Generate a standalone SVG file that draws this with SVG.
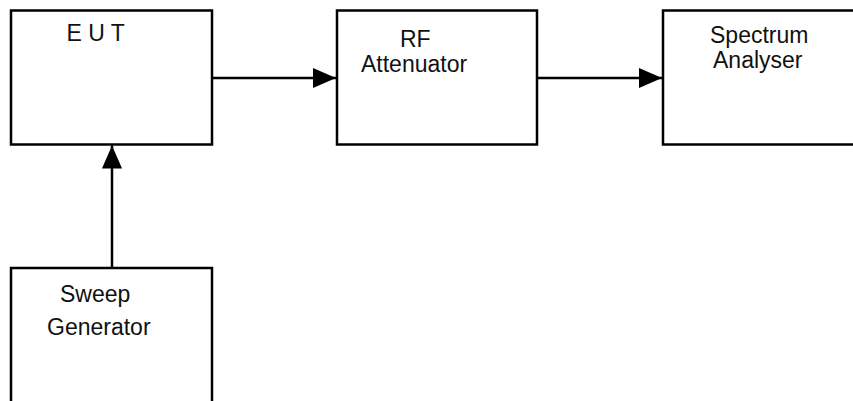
<svg xmlns="http://www.w3.org/2000/svg" width="853" height="401" viewBox="0 0 853 401">
  <style>
    .box { fill: #ffffff; stroke: #000000; stroke-width: 2.5; }
    .lbl { font-family: "Liberation Sans", Arial, sans-serif; font-size: 23px; fill: #111111; }
    .conn { stroke: #000000; stroke-width: 2.5; fill: none; }
  </style>
  <defs>
    <marker id="arrow" markerUnits="userSpaceOnUse" markerWidth="24" markerHeight="20" refX="23" refY="10" orient="auto">
      <path d="M0,0 L23,10 L0,20 Z" fill="#000000"/>
    </marker>
  </defs>
  <rect width="853" height="401" fill="#ffffff"/>
  <g id="eut">
    <rect class="box" x="11" y="10.5" width="201" height="134"/>
    <text class="lbl" x="66.5" y="41">E U T</text>
  </g>
  <g id="rf-attenuator">
    <rect class="box" x="337" y="10.5" width="200" height="134"/>
    <text class="lbl" x="400" y="47">RF</text>
    <text class="lbl" x="361" y="72">Attenuator</text>
  </g>
  <g id="spectrum-analyser">
    <rect class="box" x="663" y="10.5" width="200" height="134"/>
    <text class="lbl" x="710" y="43">Spectrum</text>
    <text class="lbl" x="713" y="68">Analyser</text>
  </g>
  <g id="sweep-generator">
    <rect class="box" x="11" y="268" width="201" height="145"/>
    <text class="lbl" x="60" y="302">Sweep</text>
    <text class="lbl" x="47" y="335">Generator</text>
  </g>
  <g id="connectors">
    <line class="conn" x1="212" y1="78" x2="336" y2="78" marker-end="url(#arrow)"/>
    <line class="conn" x1="537" y1="78" x2="662" y2="78" marker-end="url(#arrow)"/>
    <line class="conn" x1="112" y1="268" x2="112" y2="145.5" marker-end="url(#arrow)"/>
  </g>
</svg>
